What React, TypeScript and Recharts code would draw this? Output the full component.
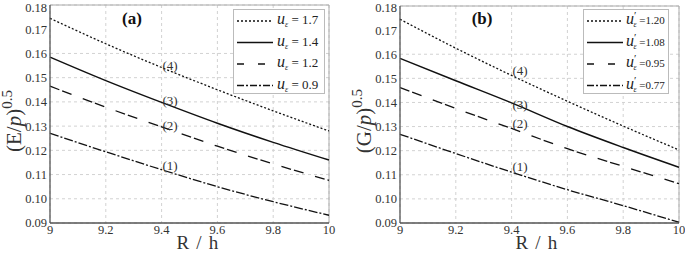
import React from 'react';
import { LineChart, Line, XAxis, YAxis, CartesianGrid, ReferenceLine, ReferenceDot } from 'recharts';

const FONT = '"Liberation Serif", "Times New Roman", serif';

// shared x positions (R / h)
const xValues = [9, 9.2, 9.4, 9.6, 9.8, 10];
const xTicks = [9, 9.2, 9.4, 9.6, 9.8, 10];
const yTicks = [0.09, 0.1, 0.11, 0.12, 0.13, 0.14, 0.15, 0.16, 0.17, 0.18];

// panel (a): (E/p)^0.5
const a1 = [0.127, 0.1194, 0.112, 0.105, 0.0988, 0.0932];
const a2 = [0.1465, 0.1378, 0.1297, 0.1217, 0.1144, 0.1076];
const a3 = [0.1585, 0.1488, 0.1398, 0.1312, 0.1233, 0.116];
const a4 = [0.1745, 0.164, 0.1542, 0.145, 0.1363, 0.128];
const aLegend = ['= 1.7', '= 1.4', '= 1.2', '= 0.9'];

// panel (b): (G/p)^0.5
const b1 = [0.1268, 0.1188, 0.1111, 0.1038, 0.0972, 0.0903];
const b2 = [0.1462, 0.1375, 0.1292, 0.1208, 0.1135, 0.1063];
const b3 = [0.1583, 0.149, 0.1398, 0.13, 0.1213, 0.1131];
const b4 = [0.1745, 0.1625, 0.1512, 0.1405, 0.1302, 0.1203];
const bLegend = ['=1.20', '=1.08', '=0.95', '=0.77'];

const curveLabels = ['(1)', '(2)', '(3)', '(4)'];
const aLabelPos = [
  [9.43, 0.1139],
  [9.43, 0.1304],
  [9.43, 0.1407],
  [9.43, 0.1552],
];
const bLabelPos = [
  [9.43, 0.1136],
  [9.43, 0.1314],
  [9.43, 0.1393],
  [9.43, 0.1531],
];

const dashes = ['9 2 2 2', '10 3 10 12', undefined, '2 2'];
const legendDashes = ['2 2', undefined, '7 14', '7 2 2 2'];

type PanelProps = {
  series: number[][];
  letter: string;
  tag: string;
  labelPos: number[][];
  top: number;
  rhX: number;
};

function LegendBox({ legendText, prime, width }: { legendText: string[]; prime: boolean; width: number }) {
  return (
    <div
      style={{
        position: 'absolute',
        left: 233,
        top: 9,
        width,
        height: 85,
        border: '1px solid #bbb',
        background: '#fff',
        boxSizing: 'border-box',
      }}
    >
      <svg width={width - 2} height={83} style={{ display: 'block' }}>
        {legendText.map((t, r) => {
          const cy = 11 + r * 21.5;
          return (
            <g key={r}>
              <line
                x1={3}
                x2={39}
                y1={cy}
                y2={cy}
                stroke="#111"
                strokeWidth={1.3}
                strokeDasharray={legendDashes[r]}
              />
              {prime ? (
                <text x={42} y={cy + 3} fontFamily={FONT} fill="#222">
                  <tspan fontStyle="italic" fontSize={16}>u</tspan>
                  <tspan fontSize={11} dx={0} dy={-5}>′</tspan>
                  <tspan fontStyle="italic" fontSize={8} dx={-3} dy={8}>ε</tspan>
                  <tspan fontSize={11} dy={-3}>{' ' + t}</tspan>
                </text>
              ) : (
                <text x={43} y={cy + 3} fontFamily={FONT} fill="#222">
                  <tspan fontStyle="italic" fontSize={16}>u</tspan>
                  <tspan fontStyle="italic" fontSize={8} dy={3}>ε</tspan>
                  <tspan fontSize={13} dy={-3}>{' ' + t}</tspan>
                </text>
              )}
            </g>
          );
        })}
      </svg>
    </div>
  );
}

const makeLabel = (text: string, size: number, bold: boolean) => (props: any) => {
  const vb = props.viewBox || {};
  const cx = (vb.x ?? 0) + (vb.width ?? 0) / 2;
  const cy = (vb.y ?? 0) + (vb.height ?? 0) / 2;
  return (
    <text
      x={cx}
      y={cy}
      dy="0.35em"
      textAnchor="middle"
      fontFamily={FONT}
      fontSize={size}
      fontWeight={bold ? 'bold' : 'normal'}
      fill={bold ? '#111' : '#333'}
    >
      {text}
    </text>
  );
};

function Panel({ series, letter, tag, labelPos, top, rhX }: PanelProps) {
  const data = xValues.map((x, i) => ({
    x,
    s1: series[0][i],
    s2: series[1][i],
    s3: series[2][i],
    s4: series[3][i],
  }));

  return (
    <LineChart
      width={342}
      height={253}
      data={data}
      margin={{ top, right: 13, bottom: 0, left: 0 }}
      style={{ fontFamily: FONT }}
    >
      <CartesianGrid stroke="#d2d2d2" strokeDasharray="3 3" vertical horizontal />
      <XAxis
        dataKey="x"
        type="number"
        domain={[9, 10]}
        ticks={xTicks}
        tickFormatter={(v: number) => String(v)}
        height={253 - 223}
        tickLine={false}
        tickSize={2}
        tickMargin={0}
        axisLine={{ stroke: '#555', strokeWidth: 1.3 }}
        tick={{ fontSize: 12.5, fill: '#333', fontFamily: FONT }}
        label={{
          content: () => (
            <text x={rhX} y={248.5} textAnchor="middle" fontFamily={FONT} fontSize={19} fill="#333" letterSpacing={1.2}>
              R / h
            </text>
          ),
        }}
      />
      <YAxis
        type="number"
        domain={[0.09, 0.18]}
        ticks={yTicks}
        tickFormatter={(v: number) => v.toFixed(2)}
        width={50}
        tickLine={false}
        tickSize={2}
        tickMargin={1}
        axisLine={{ stroke: '#555', strokeWidth: 1.3 }}
        tick={{ fontSize: 12.5, fill: '#333', fontFamily: FONT }}
        label={{
          content: () => (
            <text
              x={21}
              y={121}
              transform="rotate(-90, 21, 121)"
              textAnchor="middle"
              fontFamily={FONT}
              fontSize={21}
              fill="#333"
            >
              <tspan>({letter}/</tspan>
              <tspan fontStyle="italic">p</tspan>
              <tspan>)</tspan>
              <tspan dy={-9} fontSize={15}>0.5</tspan>
            </text>
          ),
        }}
      />
      <ReferenceLine y={0.18} stroke="#aaa" strokeWidth={1} />
      <ReferenceLine x={10} stroke="#aaa" strokeWidth={1} />
      <Line dataKey="s1" type="monotone" stroke="#111" strokeWidth={1.3} strokeDasharray={dashes[0]} dot={false} isAnimationActive={false} />
      <Line dataKey="s2" type="monotone" stroke="#111" strokeWidth={1.3} strokeDasharray={dashes[1]} dot={false} isAnimationActive={false} />
      <Line dataKey="s3" type="monotone" stroke="#111" strokeWidth={1.5} dot={false} isAnimationActive={false} />
      <Line dataKey="s4" type="monotone" stroke="#111" strokeWidth={1.3} strokeDasharray={dashes[3]} dot={false} isAnimationActive={false} />
      {labelPos.map((p, i) => (
        <ReferenceDot
          key={i}
          x={p[0]}
          y={p[1]}
          r={0}
          fill="none"
          stroke="none"
          label={{ content: makeLabel(curveLabels[i], 13, false) }}
        />
      ))}
      <ReferenceDot
        x={9.294}
        y={0.1748}
        r={0}
        fill="none"
        stroke="none"
        label={{ content: makeLabel(tag, 17, true) }}
      />
    </LineChart>
  );
}

export default function App() {
  return (
    <div style={{ position: 'absolute', left: 0, top: 0, width: 685, height: 253, background: '#fff', fontFamily: FONT }}>
      <div style={{ position: 'absolute', left: 0, top: 0, width: 342, height: 253 }}>
        <Panel series={[a1, a2, a3, a4]} letter="E" tag="(a)" labelPos={aLabelPos} top={5} rhX={198} />
        <LegendBox legendText={aLegend} prime={false} width={92} />
      </div>
      <div style={{ position: 'absolute', left: 350, top: 0, width: 342, height: 253 }}>
        <Panel series={[b1, b2, b3, b4]} letter="G" tag="(b)" labelPos={bLabelPos} top={6} rhX={187} />
        <LegendBox legendText={bLegend} prime={true} width={86} />
      </div>
    </div>
  );
}
